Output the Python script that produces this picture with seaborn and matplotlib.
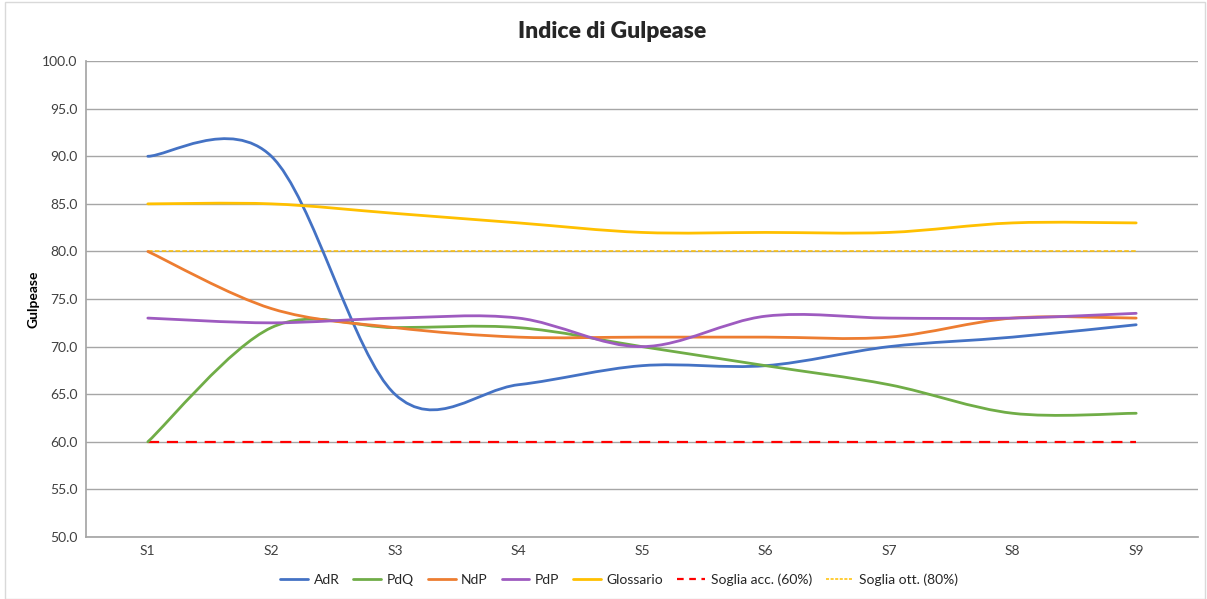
import matplotlib
matplotlib.use("Agg")
import matplotlib.pyplot as plt
import seaborn as sns
import pandas as pd
from matplotlib.path import Path
from matplotlib.patches import PathPatch, Rectangle
from matplotlib.lines import Line2D

# data
sprint = ['S1', 'S2', 'S3', 'S4', 'S5', 'S6', 'S7', 'S8', 'S9']
adr = [90, 90, 65, 66, 68, 68, 70, 71, 72.3]
pdq = [60, 72, 72, 72, 70, 68, 66, 63, 63]
ndp = [80, 74, 72, 71, 71, 71, 71, 73, 73]
pdp = [73, 72.5, 73, 73, 70, 73.2, 73, 73, 73.5]
glossario = [85, 85, 84, 83, 82, 82, 82, 83, 83]
soglia_acc = [60] * 9
soglia_ott = [80] * 9

series = {'AdR': (adr, '#4472C4'),
          'PdQ': (pdq, '#70AD47'),
          'NdP': (ndp, '#ED7D31'),
          'PdP': (pdp, '#9E5BC0'),
          'Glossario': (glossario, '#FFC000')}


def smoothPath(xs, ys):
    # Excel-style smoothed line: cubic bezier through the points
    verts = [(xs[0], ys[0])]
    codes = [Path.MOVETO]
    n = len(xs)
    for i in range(n - 1):
        x0, y0 = (xs[i - 1], ys[i - 1]) if i > 0 else (xs[i], ys[i])
        x1, y1 = xs[i], ys[i]
        x2, y2 = xs[i + 1], ys[i + 1]
        x3, y3 = (xs[i + 2], ys[i + 2]) if i + 2 < n else (x2, y2)
        c1 = (x1 + (x2 - x0) / 6, y1 + (y2 - y0) / 6)
        c2 = (x2 - (x3 - x1) / 6, y2 - (y3 - y1) / 6)
        verts += [c1, c2, (x2, y2)]
        codes += [Path.CURVE4] * 3
    return Path(verts, codes)


sns.set_theme(style="white")
plt.rcParams['font.family'] = ['Lato', 'DejaVu Sans']

fig = plt.figure(figsize=(12.07, 5.99), dpi=100)
ax = fig.add_axes([0.0713, 0.1035, 0.9212, 0.7945])

xpos = list(range(len(sprint)))
df_thr = pd.DataFrame({'x': xpos, 'acc': soglia_acc, 'ott': soglia_ott})
sns.lineplot(data=df_thr, x='x', y='acc', ax=ax, color='#FF0000', linewidth=1.6,
             zorder=3).lines[-1].set_dashes([5, 3.5])
sns.lineplot(data=df_thr, x='x', y='ott', ax=ax, color='#FFC000', linewidth=1.1,
             zorder=3).lines[-1].set_dashes([3, 1.5])

for name, (vals, col) in series.items():
    ax.add_patch(PathPatch(smoothPath(xpos, vals), facecolor='none', edgecolor=col,
                           linewidth=2, zorder=4, capstyle='round'))

ax.set_xlim(-0.5, len(sprint) - 0.5)
ax.set_ylim(50, 100)
ax.set_yticks([50 + 5 * i for i in range(11)])
ax.set_yticklabels([f'{50 + 5 * i:.1f}' for i in range(11)], fontsize=10, color='#404040')
ax.set_xticks(xpos)
ax.set_xticklabels(sprint, fontsize=10, color='#404040')
ax.tick_params(axis='both', length=0, pad=6)
ax.yaxis.grid(True, color='#A6A6A6', linewidth=1)
ax.set_axisbelow(True)
for s in ['top', 'right']:
    ax.spines[s].set_visible(False)
ax.spines['left'].set_color('#A6A6A6')
ax.spines['bottom'].set_color('#A6A6A6')
ax.set_xlabel('')
ax.set_ylabel('Gulpease', fontsize=10, fontweight='bold', color='black', labelpad=2)
fig.suptitle('Indice di Gulpease', x=0.507, y=0.965, fontsize=16.5, fontweight='heavy')

handles = [Line2D([], [], color=c, linewidth=2) for _, (v, c) in series.items()]
handles.append(Line2D([], [], color='#FF0000', linewidth=1.6, dashes=[3, 2.5]))
handles.append(Line2D([], [], color='#FFC000', linewidth=1.1, dashes=[2, 1]))
labels = list(series.keys()) + ['Soglia acc. (60%)', 'Soglia ott. (80%)']
fig.legend(handles, labels, loc='center', bbox_to_anchor=(0.513, 0.032), ncol=7,
           frameon=False, fontsize=10, handlelength=2.0, columnspacing=1.0, handletextpad=0.4)

fig.patches.append(Rectangle((0.004, 0.0), 0.994, 0.997, transform=fig.transFigure,
                             fill=False, edgecolor='#D9D9D9', linewidth=1))

fig.savefig('out.png', dpi=100)
